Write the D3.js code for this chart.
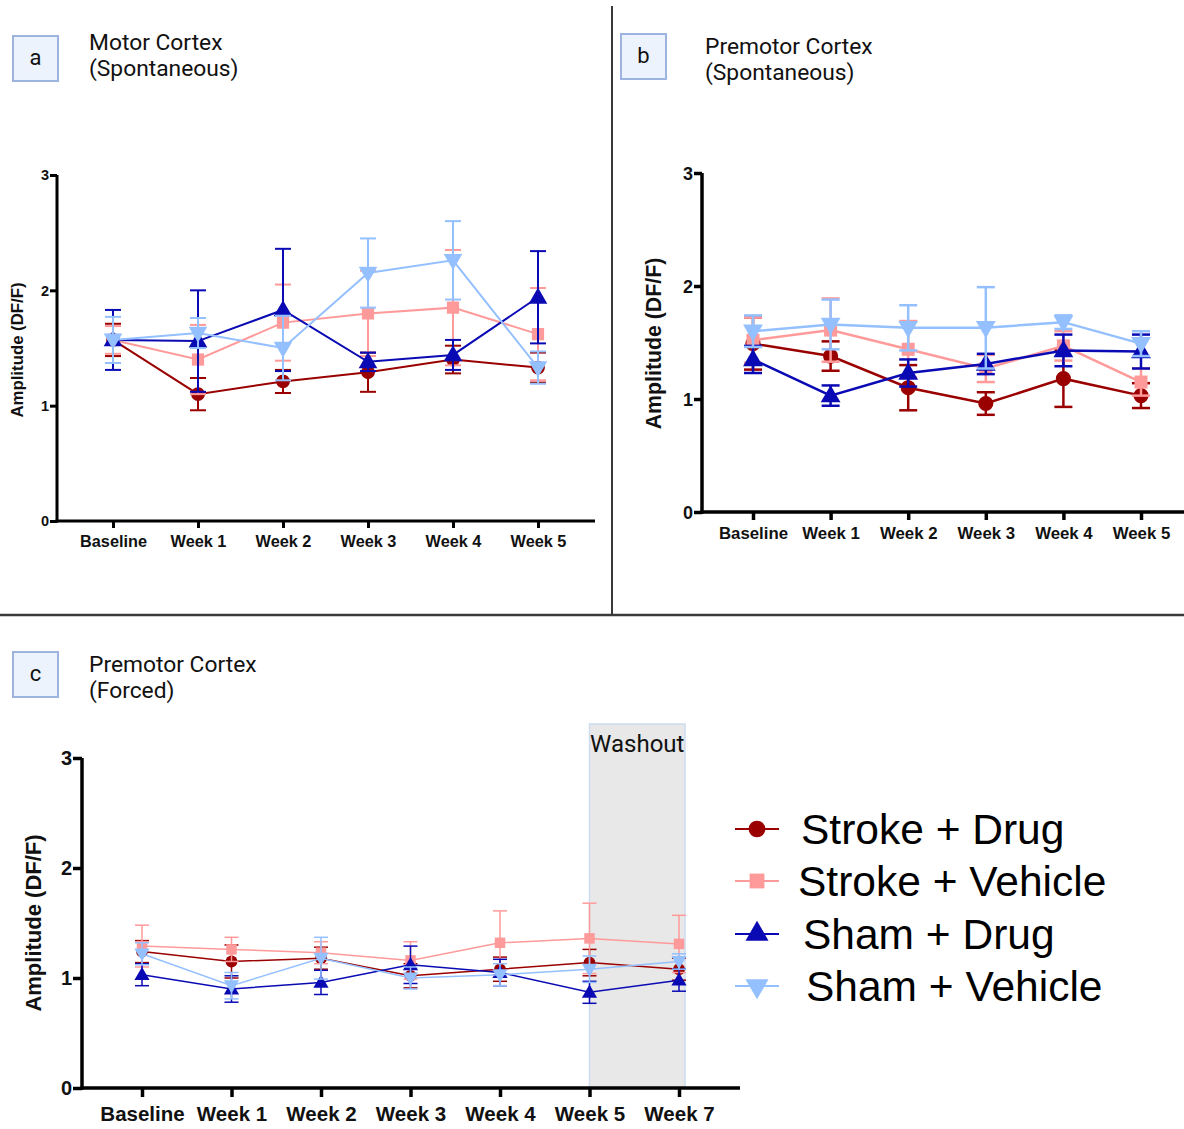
<!DOCTYPE html>
<html><head><meta charset="utf-8">
<script src="https://cdn.jsdelivr.net/npm/d3@7"></script>
<style>
body{margin:0;background:#fff;}
svg{display:block;}
</style></head>
<body>
<svg id="chart" width="1184" height="1129"></svg>
<script>
// ---------- DATA ----------
const seriesNames = ["Stroke + Drug", "Stroke + Vehicle", "Sham + Drug", "Sham + Vehicle"];
const catsSpont = ["Baseline", "Week 1", "Week 2", "Week 3", "Week 4", "Week 5"];
const catsForced = ["Baseline", "Week 1", "Week 2", "Week 3", "Week 4", "Week 5", "Week 7"];
const yTicks = [0, 1, 2, 3];

// Panel a: Motor Cortex (Spontaneous)
const aStrokeDrug    = [1.57, 1.10, 1.21, 1.29, 1.40, 1.33];
const aStrokeDrugErr = [0.14, 0.14, 0.10, 0.17, 0.12, 0.13];
const aStrokeVeh     = [1.57, 1.40, 1.72, 1.80, 1.85, 1.62];
const aStrokeVehErr  = [0.12, 0.30, 0.33, 0.37, 0.50, 0.40];
const aShamDrug      = [1.57, 1.56, 1.83, 1.38, 1.44, 1.94];
const aShamDrugErr   = [0.26, 0.44, 0.53, 0.08, 0.13, 0.40];
const aShamVeh       = [1.57, 1.63, 1.50, 2.15, 2.26, 1.33];
const aShamVehErr    = [0.20, 0.13, 0.28, 0.30, 0.34, 0.14];

// Panel b: Premotor Cortex (Spontaneous)
const bStrokeDrug    = [1.49, 1.38, 1.10, 0.96, 1.18, 1.03];
const bStrokeDrugErr = [0.23, 0.13, 0.20, 0.10, 0.25, 0.11];
const bStrokeVeh     = [1.52, 1.61, 1.44, 1.27, 1.47, 1.15];
const bStrokeVehErr  = [0.20, 0.28, 0.25, 0.12, 0.13, 0.12];
const bShamDrug      = [1.35, 1.03, 1.23, 1.31, 1.43, 1.42];
const bShamDrugErr   = [0.12, 0.09, 0.12, 0.09, 0.14, 0.15];
const bShamVeh       = [1.60, 1.66, 1.63, 1.63, 1.68, 1.49];
const bShamVehErr    = [0.14, 0.22, 0.20, 0.36, 0.06, 0.11];

// Panel c: Premotor Cortex (Forced)
const cStrokeDrug    = [1.24, 1.15, 1.18, 1.02, 1.08, 1.14, 1.08];
const cStrokeDrugErr = [0.10, 0.15, 0.10, 0.11, 0.11, 0.12, 0.10];
const cStrokeVeh     = [1.29, 1.26, 1.23, 1.16, 1.32, 1.36, 1.31];
const cStrokeVehErr  = [0.19, 0.11, 0.10, 0.17, 0.29, 0.32, 0.26];
const cShamDrug      = [1.03, 0.90, 0.96, 1.12, 1.05, 0.87, 0.98];
const cShamDrugErr   = [0.10, 0.12, 0.11, 0.17, 0.12, 0.10, 0.10];
const cShamVeh       = [1.22, 0.93, 1.18, 1.00, 1.03, 1.08, 1.15];
const cShamVehErr    = [0.10, 0.12, 0.19, 0.10, 0.10, 0.12, 0.07];

const washoutCats = ["Week 5", "Week 7"];

// ---------- STYLE ----------
const colors = ["#9a0000", "#ff9a9a", "#0a0ab4", "#94c0ff"];
const symbols = [d3.symbolCircle, d3.symbolSquare, d3.symbolTriangle, d3.symbolTriangle];
const rotations = [0, 0, 0, 180];
const axisFont = "'Liberation Sans', Arial, Helvetica, sans-serif";
const titleFont = "Roboto, 'Noto Sans', sans-serif";

const svg = d3.select("#chart");

// dividers
svg.append("line").attr("x1", 612).attr("x2", 612).attr("y1", 6).attr("y2", 614)
  .attr("stroke", "#3a3a3a").attr("stroke-width", 2);
svg.append("line").attr("x1", 0).attr("x2", 1184).attr("y1", 615).attr("y2", 615)
  .attr("stroke", "#3a3a3a").attr("stroke-width", 2.5);

function header(letter, bx, by, tx, ty, line1, line2) {
  svg.append("rect").attr("x", bx).attr("y", by).attr("width", 45).attr("height", 45)
    .attr("fill", "#edf3fc").attr("stroke", "#9db4e0").attr("stroke-width", 2);
  svg.append("text").attr("x", bx + 22.5).attr("y", by + 29).attr("text-anchor", "middle")
    .attr("font-family", titleFont).attr("font-size", 22).attr("fill", "#111").text(letter);
  svg.append("text").attr("x", tx).attr("y", ty).attr("font-family", titleFont)
    .attr("font-size", 22.8).attr("fill", "#111").text(line1);
  svg.append("text").attr("x", tx).attr("y", ty + 26).attr("font-family", titleFont)
    .attr("font-size", 22.8).attr("fill", "#111").text(line2);
}
header("a", 13, 36, 89, 50, "Motor Cortex", "(Spontaneous)");
header("b", 621, 34, 705, 54, "Premotor Cortex", "(Spontaneous)");
header("c", 13, 652, 89, 672, "Premotor Cortex", "(Forced)");

function panel(p) {
  const g = svg.append("g");
  const x = d3.scalePoint().domain(p.cats).range(p.xRange);
  const y = d3.scaleLinear().domain([0, 3]).range(p.yRange);

  if (p.washout) {
    const x0 = x(p.washout[0]), x1 = x(p.washout[1]) + 6;
    g.append("rect").attr("x", x0).attr("y", p.washoutTop).attr("width", x1 - x0)
      .attr("height", y(0) - p.washoutTop).attr("fill", "#e8e8e8")
      .attr("stroke", "#cddcf0").attr("stroke-width", 1.5);
    g.append("text").attr("x", (x0 + x1) / 2).attr("y", p.washoutTop + 28)
      .attr("text-anchor", "middle").attr("font-family", titleFont)
      .attr("font-size", 24).attr("fill", "#111").text("Washout");
  }

  // y axis
  const ya = g.append("g").attr("transform", `translate(${p.axisX},0)`)
    .call(d3.axisLeft(y).tickValues(yTicks).tickFormat(d3.format("d")).tickSize(p.tick).tickSizeOuter(0));
  ya.select(".domain").attr("stroke-width", p.axisW).attr("d", `M0,${y(3)}V${y(0) + p.axisW / 2}`);
  ya.selectAll(".tick line").attr("stroke-width", p.axisW);
  ya.selectAll(".tick text").attr("font-family", axisFont).attr("font-weight", "bold")
    .attr("font-size", p.yFont).attr("fill", "#111").attr("x", -p.tick - 1).attr("dy", "0.34em");

  // x axis
  const xa = g.append("g").attr("transform", `translate(0,${y(0)})`)
    .call(d3.axisBottom(x).tickSize(p.tick).tickSizeOuter(0));
  xa.select(".domain").attr("stroke-width", p.axisW).attr("d", `M${p.axisX - p.axisW / 2},0H${p.xEnd}`);
  xa.selectAll(".tick line").attr("stroke-width", p.axisW);
  xa.selectAll(".tick text").attr("font-family", axisFont).attr("font-weight", "bold")
    .attr("font-size", p.xFont).attr("fill", "#111").attr("y", p.tick + p.xLabelGap);

  // y label
  g.append("text").attr("transform", `translate(${p.labelX},${(y(0) + y(3)) / 2 + p.labelDy}) rotate(-90)`)
    .attr("text-anchor", "middle").attr("font-family", axisFont).attr("font-weight", "bold")
    .attr("font-size", p.labelFont).attr("fill", "#111").text("Amplitude (DF/F)");

  const line = d3.line().x(d => x(d.c)).y(d => y(d.v));
  p.series.forEach((s, i) => {
    const pts = p.cats.map((c, j) => ({ c, v: s.mean[j], e: s.err[j] }));
    const sg = g.append("g");
    sg.append("path").datum(pts).attr("d", line).attr("fill", "none")
      .attr("stroke", colors[i]).attr("stroke-width", p.lineW);
    const eb = sg.selectAll(".eb").data(pts).enter().append("g");
    eb.append("line").attr("x1", d => x(d.c)).attr("x2", d => x(d.c))
      .attr("y1", d => y(d.v - d.e)).attr("y2", d => y(d.v + d.e))
      .attr("stroke", colors[i]).attr("stroke-width", p.lineW);
    [1, -1].forEach(sg_ => {
      eb.append("line").attr("x1", d => x(d.c) - p.cap).attr("x2", d => x(d.c) + p.cap)
        .attr("y1", d => y(d.v + sg_ * d.e)).attr("y2", d => y(d.v + sg_ * d.e))
        .attr("stroke", colors[i]).attr("stroke-width", p.lineW);
    });
    sg.selectAll(".mk").data(pts).enter().append("path")
      .attr("d", d3.symbol().type(symbols[i]).size(p.symSize[i]))
      .attr("transform", d => `translate(${x(d.c)},${y(d.v) + (i === 2 ? 1 : i === 3 ? -1 : 0)}) rotate(${rotations[i]})`)
      .attr("fill", colors[i]);
  });
}

panel({
  cats: catsSpont, xRange: [113, 538], yRange: [521, 175], axisX: 57, xEnd: 595,
  tick: 7, axisW: 3, yFont: 14.5, xFont: 16.3, xLabelGap: 7, labelX: 23, labelFont: 16.8, labelDy: 2,
  lineW: 2, cap: 8, symSize: [150, 150, 150, 150],
  series: [
    { mean: aStrokeDrug, err: aStrokeDrugErr },
    { mean: aStrokeVeh, err: aStrokeVehErr },
    { mean: aShamDrug, err: aShamDrugErr },
    { mean: aShamVeh, err: aShamVehErr }
  ]
});

panel({
  cats: catsSpont, xRange: [753, 1141], yRange: [512, 173], axisX: 702, xEnd: 1184,
  tick: 8, axisW: 3.5, yFont: 18, xFont: 16.8, xLabelGap: 7, labelX: 661, labelFont: 21.3, labelDy: 1,
  lineW: 2.5, cap: 9, symSize: [180, 170, 170, 170],
  series: [
    { mean: bStrokeDrug, err: bStrokeDrugErr },
    { mean: bStrokeVeh, err: bStrokeVehErr },
    { mean: bShamDrug, err: bShamDrugErr },
    { mean: bShamVeh, err: bShamVehErr }
  ]
});

panel({
  cats: catsForced, xRange: [142, 679], yRange: [1088, 758], axisX: 82, xEnd: 740,
  tick: 9, axisW: 3.5, yFont: 20, xFont: 20.5, xLabelGap: 9, labelX: 41, labelFont: 22, labelDy: 0,
  lineW: 1.5, cap: 7, symSize: [110, 110, 100, 100],
  washout: washoutCats, washoutTop: 724,
  series: [
    { mean: cStrokeDrug, err: cStrokeDrugErr },
    { mean: cStrokeVeh, err: cStrokeVehErr },
    { mean: cShamDrug, err: cShamDrugErr },
    { mean: cShamVeh, err: cShamVehErr }
  ]
});

// legend
const legend = svg.append("g");
const legY = [829, 881, 934, 986];
const legX = [801, 798, 803, 806];
const legSym = [220, 220, 230, 230];
seriesNames.forEach((n, i) => {
  const gy = legY[i];
  legend.append("line").attr("x1", 735).attr("x2", 779).attr("y1", gy).attr("y2", gy)
    .attr("stroke", colors[i]).attr("stroke-width", 2);
  legend.append("path").attr("d", d3.symbol().type(symbols[i]).size(legSym[i]))
    .attr("transform", `translate(757,${gy}) rotate(${rotations[i]})`).attr("fill", colors[i]);
  legend.append("text").attr("x", legX[i]).attr("y", gy + 15).attr("font-family", axisFont)
    .attr("font-size", 42.5).attr("fill", "#000").text(n);
});
</script>
</body></html>
